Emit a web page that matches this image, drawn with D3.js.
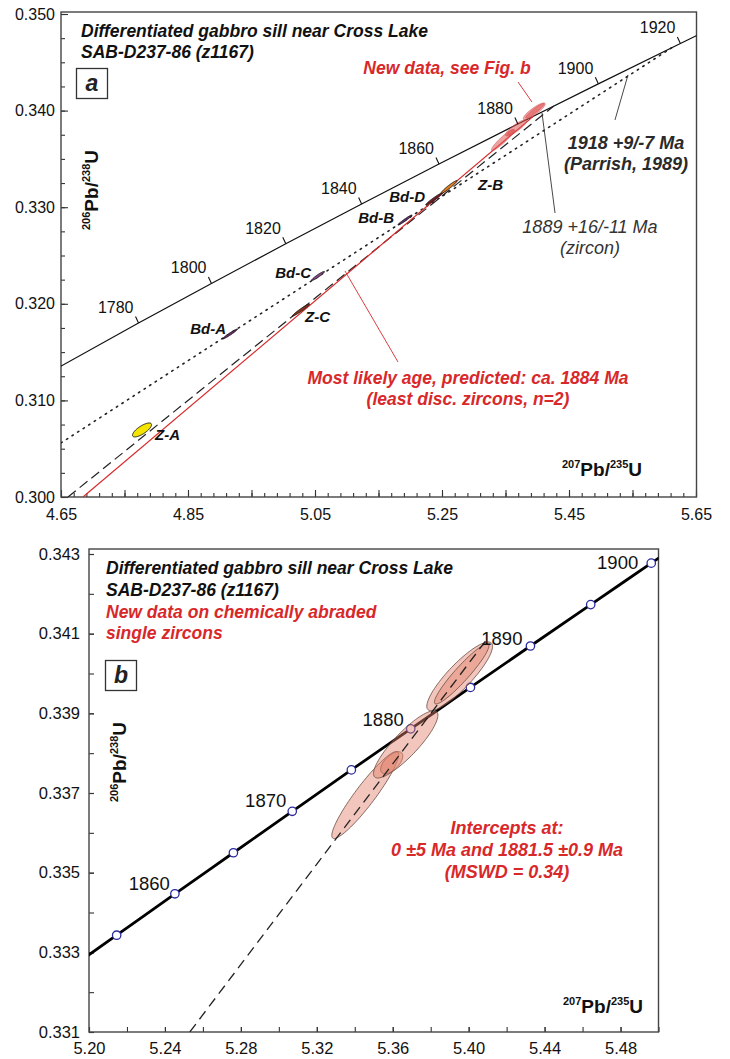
<!DOCTYPE html>
<html><head><meta charset="utf-8">
<script src="https://cdn.jsdelivr.net/npm/d3@7"></script>
<style>
body{margin:0;background:#fff}
svg text{font-family:"Liberation Sans",Arial,Helvetica,sans-serif}
</style>
</head><body>
<svg id="chart" width="730" height="1059"></svg>
<script>
// ---------------- DATA ----------------
// Panel a: concordia (age, 207Pb/235U, 206Pb/238U)
const concAgesA = [1740, 1780, 1800, 1820, 1840, 1860, 1880, 1900, 1920, 1940];
const concXA = [4.54912, 4.77208, 4.88690, 5.00400, 5.12344, 5.24525, 5.36948, 5.49618, 5.62541, 5.75718];
const concYA = [0.30986, 0.31801, 0.32211, 0.32621, 0.33033, 0.33447, 0.33861, 0.34277, 0.34695, 0.35113];
const concLabelAgesA = [1780, 1800, 1820, 1840, 1860, 1880, 1900, 1920];

// Panel a: discordia lines (two end points each)
const parrishX = [4.65, 5.6124];     // dotted, 1918 +9/-7 Ma
const parrishY = [0.3056, 0.34653];
const zirconX = [4.661, 5.4262];     // dashed, 1889 +16/-11 Ma
const zirconY = [0.300, 0.34048];
const likelyX = [4.6846, 5.3946];    // red, ca. 1884 Ma
const likelyY = [0.300, 0.33945];

// Panel a: old fractions (center x, center y, half-width x, half-width y, rho)
const oldNames = ["Z-A", "Bd-A", "Bd-C", "Z-C", "Bd-B", "Bd-D", "Z-B"];
const oldX   = [4.7776, 4.9161, 5.0547, 5.0280, 5.1917, 5.2374, 5.2610];
const oldY   = [0.30694, 0.31687, 0.32288, 0.31936, 0.32867, 0.33085, 0.33209];
const oldSX  = [0.0150, 0.0118, 0.0102, 0.0134, 0.0110, 0.0130, 0.0126];
const oldSY  = [0.00072, 0.00052, 0.00047, 0.00062, 0.00052, 0.00062, 0.00066];
const oldRho = [0.75, 0.97, 0.95, 0.97, 0.97, 0.97, 0.96];

// New data: chemically abraded single zircons
const newX   = [5.34553, 5.35947, 5.36684, 5.39526, 5.39632];
const newY   = [0.33695, 0.33776, 0.33822, 0.33993, 0.33999];
const newSX  = [0.01763, 0.00583, 0.01695, 0.01732, 0.01437];
const newSY  = [0.001093, 0.000278, 0.000844, 0.000862, 0.000756];
const newRho = [0.930, 0.600, 0.868, 0.873, 0.938];

// Panel b: concordia
const concAgesB = [1850, 1855, 1860, 1865, 1870, 1875, 1880, 1885, 1890, 1895, 1900, 1905];
const concXB = [5.18404, 5.21457, 5.24525, 5.27607, 5.30707, 5.33820, 5.36948, 5.40093, 5.43254, 5.46429, 5.49618, 5.52826];
const concYB = [0.33240, 0.33343, 0.33447, 0.33550, 0.33654, 0.33758, 0.33861, 0.33965, 0.34069, 0.34173, 0.34277, 0.34382];
const markerAgesB = [1855, 1860, 1865, 1870, 1875, 1880, 1885, 1890, 1895, 1900];
const labelAgesB = [1860, 1870, 1880, 1890, 1900];
// Panel b discordia (0 and 1881.5 Ma), drawn segment
const discX = [5.2531, 5.409];
const discY = [0.331, 0.34082];

// Axis ticks
const xTicksA = [4.65, 4.85, 5.05, 5.25, 5.45, 5.65];
const yTicksA = [0.300, 0.310, 0.320, 0.330, 0.340, 0.350];
const xTicksB = [5.20, 5.24, 5.28, 5.32, 5.36, 5.40, 5.44, 5.48];
const yTicksB = [0.331, 0.333, 0.335, 0.337, 0.339, 0.341, 0.343];

// ---------------- DRAWING ----------------
const RED = "#d8282a";
const svg = d3.select("#chart");

const xA = d3.scaleLinear([4.65, 5.65], [61, 696]);
const yA = d3.scaleLinear([0.300, 0.350], [497, 14]);
const xB = d3.scaleLinear([5.20, 5.50], [89, 658.5]);
const yB = d3.scaleLinear([0.331, 0.343], [1032, 554]);

const frameA = {x0: 61, x1: 696.5, y0: 12, y1: 497};
const frameB = {x0: 89, x1: 658.5, y0: 549, y1: 1032};

function clip(id, f) {
  svg.append("clipPath").attr("id", id).append("rect")
    .attr("x", f.x0).attr("y", f.y0).attr("width", f.x1 - f.x0).attr("height", f.y1 - f.y0);
}
clip("clipA", frameA); clip("clipB", frameB);

function ellipsePts(cx, cy, sx, sy, rho, n = 90) {
  const k = Math.sqrt(1 - rho * rho);
  return d3.range(n).map(i => {
    const t = 2 * Math.PI * i / n;
    return [cx + sx * Math.cos(t), cy + sy * (rho * Math.cos(t) + k * Math.sin(t))];
  });
}
function seg(g, x, y, xs, ys) {
  return g.append("line").attr("x1", x(xs[0])).attr("y1", y(ys[0])).attr("x2", x(xs[1])).attr("y2", y(ys[1]));
}
function range(a, b, s) { const out = []; for (let v = a; v <= b + s / 1000; v += s) out.push(+v.toFixed(5)); return out; }

function axes(x, y, f, xMajor, xMinor, yMajor, yMinor, xFmt, yFmt, fs, padX, padY, tMaj, tMin) {
  const g = svg.append("g");
  const bx = g.append("g").attr("transform", `translate(0,${f.y1})`);
  bx.call(d3.axisBottom(x).tickValues(xMinor).tickSize(-tMin).tickFormat(""));
  bx.call(g2 => g2.select(".domain").remove());
  const bx2 = g.append("g").attr("transform", `translate(0,${f.y1})`);
  bx2.call(d3.axisBottom(x).tickValues(xMajor).tickSize(-tMaj).tickPadding(padX).tickFormat(d => xFmt(d)));
  bx2.select(".domain").remove();
  const ly = g.append("g").attr("transform", `translate(${f.x0},0)`);
  ly.call(d3.axisLeft(y).tickValues(yMinor).tickSize(-tMin).tickFormat(""));
  ly.select(".domain").remove();
  const ly2 = g.append("g").attr("transform", `translate(${f.x0},0)`);
  ly2.call(d3.axisLeft(y).tickValues(yMajor).tickSize(-tMaj).tickPadding(padY).tickFormat(d => yFmt(d)));
  ly2.select(".domain").remove();
  g.selectAll("text").attr("font-size", fs).attr("fill", "#111").attr("font-family", '"Liberation Sans",Arial,sans-serif');
  g.selectAll("line").attr("stroke", "#333").attr("stroke-width", 1.1);
  svg.append("rect").attr("x", f.x0).attr("y", f.y0).attr("width", f.x1 - f.x0).attr("height", f.y1 - f.y0)
    .attr("fill", "none").attr("stroke", "#444").attr("stroke-width", 1.4);
}

function isoLabel(x, y, a, b, big, small, rotate) {
  const t = svg.append("text").attr("font-weight", "bold").attr("fill", "#111")
    .attr("transform", `translate(${x},${y})` + (rotate ? " rotate(-90)" : ""))
    .attr("text-anchor", rotate ? "middle" : "start");
  t.append("tspan").attr("font-size", small).attr("dy", -big * 0.42).text(a);
  t.append("tspan").attr("font-size", big).attr("dy", big * 0.42).text("Pb/");
  t.append("tspan").attr("font-size", small).attr("dy", -big * 0.42).text(b);
  t.append("tspan").attr("font-size", big).attr("dy", big * 0.42).text("U");
}

function textLines(lines, x, y0, lh, opts) {
  lines.forEach((s, i) => {
    svg.append("text").attr("x", x).attr("y", y0 + i * lh)
      .attr("font-size", opts.fs).attr("font-weight", opts.bold ? "bold" : "normal")
      .attr("font-style", opts.italic ? "italic" : "normal")
      .attr("fill", opts.fill || "#111").attr("text-anchor", opts.anchor || "start").text(s);
  });
}

// ===== PANEL A =====
axes(xA, yA, frameA,
  range(4.65, 5.65, 0.1), range(4.65, 5.65, 0.02),
  yTicksA, range(0.300, 0.350, 0.0025),
  d => (xTicksA.some(v => Math.abs(v - d) < 1e-6) ? d.toFixed(2) : ""),
  d => d.toFixed(3), 16, 12, 6, 7, 4);

const gA = svg.append("g").attr("clip-path", "url(#clipA)");
const concA = concAgesA.map((a, i) => [concXA[i], concYA[i]]);
gA.append("path").datum(concA)
  .attr("d", d3.line().x(d => xA(d[0])).y(d => yA(d[1])).curve(d3.curveMonotoneX))
  .attr("fill", "none").attr("stroke", "#111").attr("stroke-width", 1.2);

seg(gA, xA, yA, parrishX, parrishY).attr("stroke", "#222").attr("stroke-width", 1.6)
  .attr("stroke-dasharray", "1.4 5.2").attr("stroke-linecap", "round");
seg(gA, xA, yA, zirconX, zirconY).attr("stroke", "#222").attr("stroke-width", 1.2).attr("stroke-dasharray", "10 5");
seg(gA, xA, yA, likelyX, likelyY).attr("stroke", RED).attr("stroke-width", 1.2);

// concordia age ticks and labels
concLabelAgesA.forEach(age => {
  const i = concAgesA.indexOf(age);
  const px = xA(concXA[i]), py = yA(concYA[i]);
  svg.append("line").attr("x1", px).attr("y1", py).attr("x2", px - 3).attr("y2", py - 6.5)
    .attr("stroke", "#111").attr("stroke-width", 1.1);
  svg.append("text").attr("x", px - 5).attr("y", py - 10).attr("text-anchor", "end")
    .attr("font-size", 16).attr("fill", "#111").text(age);
});

// old fractions
const oldFill = ["#f4e400", "#6e2c6a", "#8a4a8c", "#8a3518", "#6a3070", "#7a1e28", "#e0801e"];
const ellLineA = d3.line().x(d => xA(d[0])).y(d => yA(d[1])).curve(d3.curveLinearClosed);
oldNames.forEach((n, i) => {
  gA.append("path").attr("d", ellLineA(ellipsePts(oldX[i], oldY[i], oldSX[i], oldSY[i], oldRho[i])))
    .attr("fill", oldFill[i]).attr("stroke", "#111").attr("stroke-width", 0.9);
});
// new fractions in panel a
newX.forEach((v, i) => {
  gA.append("path").attr("d", ellLineA(ellipsePts(newX[i], newY[i], newSX[i], newSY[i], newRho[i])))
    .attr("fill", "#e05858").attr("fill-opacity", 0.55).attr("stroke", "#d04848").attr("stroke-width", 0.5);
});

// old fraction labels (pixel offsets from ellipse centres)
const oldLabelOffset = {
  "Z-A": [13, 10, "start"], "Bd-A": [-4, 0, "end"], "Bd-C": [-7, 2, "end"], "Z-C": [4, 12, "start"],
  "Bd-B": [-11, 3, "end"], "Bd-D": [-9, 3, "end"], "Z-B": [29, 3, "start"]
};
oldNames.forEach((n, i) => {
  const o = oldLabelOffset[n];
  svg.append("text").attr("x", xA(oldX[i]) + o[0]).attr("y", yA(oldY[i]) + o[1]).attr("text-anchor", o[2])
    .attr("font-size", 15).attr("font-weight", "bold").attr("font-style", "italic").attr("fill", "#111").text(n);
});

// leaders (data coordinates)
const leaders = [
  {x: [5.5224, 5.5429], y: [0.33903, 0.34369], c: "#333"},
  {x: [5.4280, 5.4075], y: [0.32940, 0.33975], c: "#333"},
  {x: [5.3697, 5.3917], y: [0.34296, 0.34089], c: RED},
  {x: [5.0972, 5.1807], y: [0.32340, 0.31398], c: RED}
];
leaders.forEach(l => seg(svg, xA, yA, l.x, l.y).attr("stroke", l.c).attr("stroke-width", 0.9));

// texts panel a
textLines(["Differentiated gabbro sill near Cross Lake", "SAB-D237-86 (z1167)"], 81, 37, 21,
  {fs: 17.5, bold: true, italic: true});
svg.append("rect").attr("x", 76.5).attr("y", 68.5).attr("width", 31).attr("height", 30)
  .attr("fill", "#fff").attr("stroke", "#333").attr("stroke-width", 1.3);
svg.append("text").attr("x", 92).attr("y", 91).attr("text-anchor", "middle").attr("font-size", 23)
  .attr("font-weight", "bold").attr("font-style", "italic").attr("fill", "#222").text("a");
textLines(["New data, see Fig. b"], 447, 74, 0, {fs: 17.5, bold: true, italic: true, fill: RED, anchor: "middle"});
textLines(["1918 +9/-7 Ma", "(Parrish, 1989)"], 626, 149, 21, {fs: 18, bold: true, italic: true, fill: "#2a2a2a", anchor: "middle"});
textLines(["1889 +16/-11 Ma", "(zircon)"], 590, 233, 21, {fs: 18, italic: true, fill: "#333", anchor: "middle"});
textLines(["Most likely age, predicted: ca. 1884 Ma", "(least disc. zircons, n=2)"], 468, 384, 21,
  {fs: 17.5, bold: true, italic: true, fill: RED, anchor: "middle"});
isoLabel(562, 476, "207", "235", 19, 11, false);
isoLabel(98, 190, "206", "238", 19, 11, true);

// ===== PANEL B =====
axes(xB, yB, frameB,
  xTicksB, range(5.20, 5.50, 0.02),
  yTicksB, range(0.331, 0.343, 0.001),
  d => d.toFixed(2), d => d.toFixed(3), 16.5, 10, 9, 5, 5);

const gB = svg.append("g").attr("clip-path", "url(#clipB)");
const concB = concAgesB.map((a, i) => [concXB[i], concYB[i]]);
gB.append("path").datum(concB)
  .attr("d", d3.line().x(d => xB(d[0])).y(d => yB(d[1])).curve(d3.curveMonotoneX))
  .attr("fill", "none").attr("stroke", "#000").attr("stroke-width", 2.8);
markerAgesB.forEach(age => {
  const i = concAgesB.indexOf(age);
  gB.append("circle").attr("cx", xB(concXB[i])).attr("cy", yB(concYB[i])).attr("r", 4.2)
    .attr("fill", "#fff").attr("stroke", "#2a2aa0").attr("stroke-width", 1.3);
});
const ellLineB = d3.line().x(d => xB(d[0])).y(d => yB(d[1])).curve(d3.curveLinearClosed);
newX.forEach((v, i) => {
  gB.append("path").attr("d", ellLineB(ellipsePts(newX[i], newY[i], newSX[i], newSY[i], newRho[i])))
    .attr("fill", "#e2806a").attr("fill-opacity", 0.45).attr("stroke", "#6a4a40").attr("stroke-width", 0.8);
});
seg(gB, xB, yB, discX, discY).attr("stroke", "#222").attr("stroke-width", 1.3).attr("stroke-dasharray", "10 6");

const ageLabelOffsetB = {1860: [-5, -4], 1870: [-6, -4], 1880: [-7, -3], 1890: [-8, -1], 1900: [-13, 6]};
labelAgesB.forEach(age => {
  const i = concAgesB.indexOf(age);
  const o = ageLabelOffsetB[age];
  svg.append("text").attr("x", xB(concXB[i]) + o[0]).attr("y", yB(concYB[i]) + o[1]).attr("text-anchor", "end")
    .attr("font-size", 18.5).attr("fill", "#111").text(age);
});

textLines(["Differentiated gabbro sill near Cross Lake", "SAB-D237-86 (z1167)"], 106, 574, 22,
  {fs: 17.5, bold: true, italic: true});
textLines(["New data on chemically abraded", "single zircons"], 106, 618, 21,
  {fs: 17.5, bold: true, italic: true, fill: RED});
svg.append("rect").attr("x", 105.5).attr("y", 660.5).attr("width", 31).attr("height", 30)
  .attr("fill", "#fff").attr("stroke", "#333").attr("stroke-width", 1.3);
svg.append("text").attr("x", 121).attr("y", 683).attr("text-anchor", "middle").attr("font-size", 23)
  .attr("font-weight", "bold").attr("font-style", "italic").attr("fill", "#222").text("b");
textLines(["Intercepts at:", "0 ±5 Ma and 1881.5 ±0.9 Ma", "(MSWD = 0.34)"], 507, 834, 22,
  {fs: 18, bold: true, italic: true, fill: RED, anchor: "middle"});
isoLabel(563, 1013, "207", "235", 19, 11, false);
isoLabel(126, 762, "206", "238", 19, 11, true);
</script>
</body></html>
